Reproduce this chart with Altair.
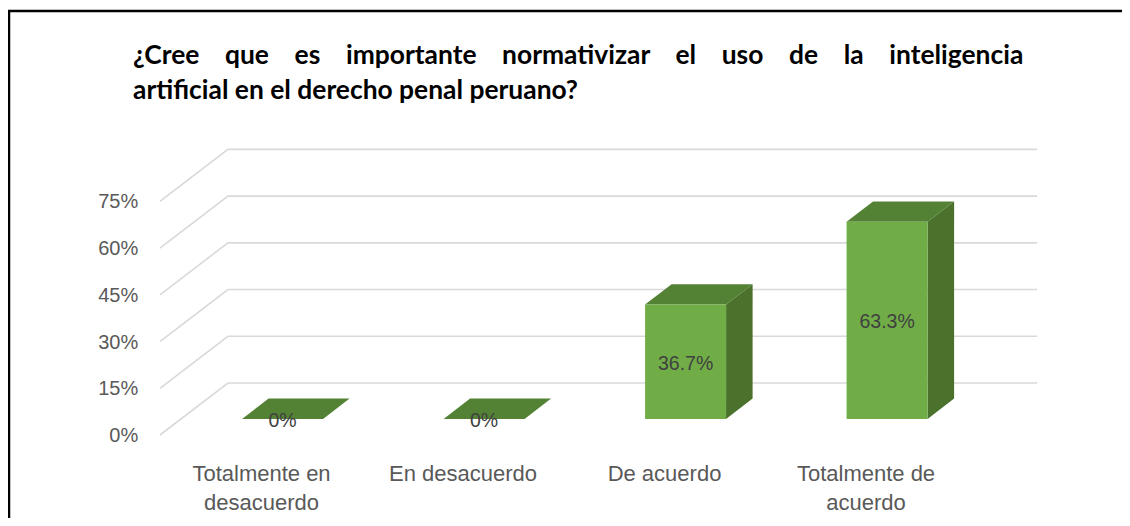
import altair as alt
import pandas as pd

# ---------------- data ----------------
categories = ["Totalmente en\ndesacuerdo", "En desacuerdo", "De acuerdo", "Totalmente de\nacuerdo"]
values = [0.0, 0.0, 36.7, 63.3]
value_labels = ["0%", "0%", "36.7%", "63.3%"]
ticks = [0, 15, 30, 45, 60, 75]
tick_labels = ["0%", "15%", "30%", "45%", "60%", "75%"]
title_lines = ["¿Cree que es importante normativizar el uso de la inteligencia",
               "artificial en el derecho penal peruano?"]

# ---------------- layout / geometry (styles) ----------------
W, H = 1114, 510
X_ORIGIN_PX = 253.5      # px of category 0 on the front plane
X_STEP_PX = 201.5        # px per category
Y_ZERO_PX = 427.0        # px of 0% on the front plane
Y_PX_PER_PCT = 3.115
DEPTH_DX = 68 / X_STEP_PX        # category units for full depth
DEPTH_DV = 52 / Y_PX_PER_PCT     # percent units for full depth
Z_FRONT, Z_BACK = 0.31, 0.70
HALF_W = 0.201
GRID_LEFT = -0.504
GRID_RIGHT = 3.849

x_dom = [(0 - X_ORIGIN_PX) / X_STEP_PX, (W - X_ORIGIN_PX) / X_STEP_PX]
y_dom = [(Y_ZERO_PX - H) / Y_PX_PER_PCT, Y_ZERO_PX / Y_PX_PER_PCT]
xs = alt.Scale(domain=x_dom, nice=False, zero=False)
ys = alt.Scale(domain=y_dom, nice=False, zero=False)

FONT = "Liberation Sans"
TITLE_FONT = "Lato"

# ---------------- tables ----------------
grid_rows = []
for t in ticks:
    pts = [(GRID_LEFT, t), (GRID_LEFT + DEPTH_DX, t + DEPTH_DV), (GRID_RIGHT, t + DEPTH_DV)]
    for k, (u, v) in enumerate(pts):
        grid_rows.append({"tick": t, "k": k, "u": u, "v": v})
grid = pd.DataFrame(grid_rows)

front_rows, top_rows, side_rows, lab_rows = [], [], [], []
for i, (c, val, lab) in enumerate(zip(categories, values, value_labels)):
    fx, fv = Z_FRONT * DEPTH_DX, Z_FRONT * DEPTH_DV
    bx, bv = Z_BACK * DEPTH_DX, Z_BACK * DEPTH_DV
    if val > 0:
        front_rows.append({"cat": c, "u0": i - HALF_W + fx, "u1": i + HALF_W + fx,
                           "v0": fv, "v1": val + fv})
        side_rows.append({"cat": c, "u": i + HALF_W + fx, "y0": fv, "y1": val + fv})
        side_rows.append({"cat": c, "u": i + HALF_W + bx, "y0": bv, "y1": val + bv})
    top_rows.append({"cat": c, "v": val + fv, "xl": i - HALF_W + fx, "xr": i + HALF_W + fx})
    top_rows.append({"cat": c, "v": val + bv, "xl": i - HALF_W + bx, "xr": i + HALF_W + bx})
    lab_rows.append({"cat": c, "u": i + fx, "v": val / 2 + fv, "label": lab, "xu": i})
front = pd.DataFrame(front_rows)
top = pd.DataFrame(top_rows)
side = pd.DataFrame(side_rows)
labs = pd.DataFrame(lab_rows)
ytk = pd.DataFrame({"t": ticks, "label": tick_labels, "u": [GRID_LEFT - 0.108] * len(ticks)})
xlab = pd.DataFrame({"cat": categories, "u": list(range(len(categories))),
                     "v": [(Y_ZERO_PX - 466) / Y_PX_PER_PCT] * len(categories)})

# ---------------- layers ----------------
grid_layer = alt.Chart(grid).mark_line(color="#d9d9d9", strokeWidth=1.6).encode(
    x=alt.X("u:Q", scale=xs, axis=None),
    y=alt.Y("v:Q", scale=ys, axis=None),
    detail="tick:N",
    order="k:Q",
)

top_layer = alt.Chart(top).mark_area(orient="horizontal", color="#548235").encode(
    y=alt.Y("v:Q", scale=ys, axis=None),
    x=alt.X("xl:Q", scale=xs, axis=None),
    x2="xr:Q",
    detail="cat:N",
)

side_layer = alt.Chart(side).mark_area(orient="vertical", color="#4a722c").encode(
    x=alt.X("u:Q", scale=xs, axis=None),
    y=alt.Y("y0:Q", scale=ys, axis=None),
    y2="y1:Q",
    detail="cat:N",
)

front_layer = alt.Chart(front).mark_rect(color="#70ad47").encode(
    x=alt.X("u0:Q", scale=xs, axis=None),
    x2="u1:Q",
    y=alt.Y("v0:Q", scale=ys, axis=None),
    y2="v1:Q",
)

val_text = alt.Chart(labs).mark_text(font=FONT, fontSize=19.5, color="#404040",
                                     baseline="middle", dy=2).encode(
    x=alt.X("u:Q", scale=xs, axis=None),
    y=alt.Y("v:Q", scale=ys, axis=None),
    text="label:N",
)

ytick_text = alt.Chart(ytk).mark_text(font=FONT, fontSize=20, color="#595959",
                                      align="right", baseline="middle", dy=1).encode(
    x=alt.X("u:Q", scale=xs, axis=None),
    y=alt.Y("t:Q", scale=ys, axis=None),
    text="label:N",
)

xcat_text = alt.Chart(xlab).mark_text(font=FONT, fontSize=22, color="#595959",
                                      align="center", baseline="middle",
                                      lineBreak="\n", lineHeight=29).encode(
    x=alt.X("u:Q", scale=xs, axis=None),
    y=alt.Y("v:Q", scale=ys, axis=None),
    text="cat:N",
)

title_df = pd.DataFrame({"line": [0, 1],
                         "text": [title_lines[0].replace(" ", " \u00a0\u00a0\u00a0"), title_lines[1]]})
title1 = alt.Chart(title_df[title_df.line == 0]).mark_text(
    font=TITLE_FONT, fontSize=26.4, fontWeight="bold", color="#000000",
    align="left", baseline="alphabetic").encode(
    x=alt.value(125), y=alt.value(56), text="text:N")
title2 = alt.Chart(title_df[title_df.line == 1]).mark_text(
    font=TITLE_FONT, fontSize=26.4, fontWeight="bold", color="#000000",
    align="left", baseline="alphabetic").encode(
    x=alt.value(125), y=alt.value(90.5), text="text:N")

border_top = alt.Chart(pd.DataFrame({"a": [0]})).mark_rule(color="#000000", strokeWidth=2.5).encode(
    x=alt.value(0), x2=alt.value(W), y=alt.value(3))
border_left = alt.Chart(pd.DataFrame({"a": [0]})).mark_rule(color="#000000", strokeWidth=2.5).encode(
    x=alt.value(1), y=alt.value(2), y2=alt.value(H))

chart = alt.layer(
    grid_layer, top_layer, side_layer, front_layer,
    val_text, ytick_text, xcat_text, title1, title2, border_top, border_left,
).properties(
    width=W, height=H, autosize=alt.AutoSizeParams(type="none"), padding=0,
    background="#ffffff",
).configure_view(stroke=None)

chart.save("out.html", embed_options={"renderer": "svg", "actions": False})
